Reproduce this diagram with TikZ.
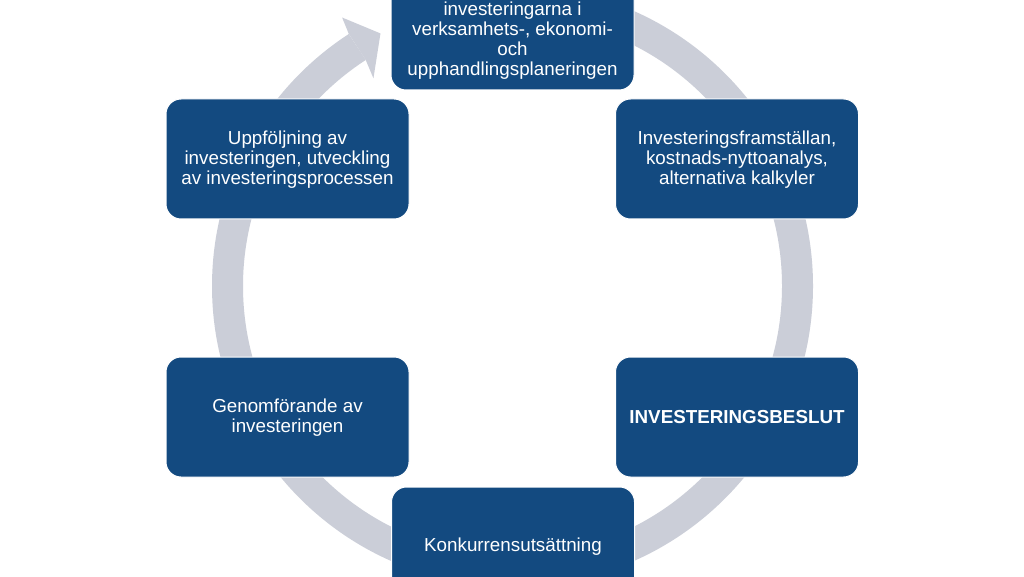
\documentclass[tikz,border=0pt]{standalone}
\usepackage{fontspec}
\setmainfont{Liberation Sans}
\usetikzlibrary{calc}
\definecolor{boxblue}{RGB}{19,74,128}
\definecolor{ringgray}{RGB}{203,206,216}
\begin{document}
\begin{tikzpicture}[x=1pt,y=-1pt,
  stagebox/.style={rectangle, rounded corners=15pt, fill=boxblue, draw=white,
    line width=1pt, minimum width=243pt, minimum height=120pt, inner sep=0pt},
  stagetext/.style={text=white, align=center, inner sep=0pt,
    font=\fontsize{18.8}{20}\selectfont}]
\useasboundingbox (0,0) rectangle (1024,577);
\clip (0,0) rectangle (1024,577);
\fill[white] (0,0) rectangle (1024,577);
\coordinate (c) at (512.5,286);
% ring
\draw[ringgray, line width=31pt] ($(c)+(-90:285)$) arc[start angle=-90, end angle=237, radius=285];
\fill[ringgray] ($(c)+(237:300.5)$) -- ($(c)+(237.6:318)$) -- ($(c)+(242.4:285)$)
  -- ($(c)+(236.2:250)$) -- ($(c)+(237:269.5)$) -- cycle;
% boxes
\node[stagebox] (top) at (512.5,30) {};
\node[stagetext] (toptext) at (512.5,41) {investeringarna i\\verksamhets-, ekonomi-\\och\\upphandlingsplaneringen};
\node[stagebox] (ur) at (737,159) {};
\node[stagetext] (urtext) at (737,160) {Investeringsframställan,\\kostnads-nyttoanalys,\\alternativa kalkyler};
\node[stagebox] (lr) at (737,417) {};
\node[stagetext] (lrtext) at (737,417) {\textbf{INVESTERINGSBESLUT}};
\node[stagebox] (bot) at (513,547) {};
\node[stagetext] (bottext) at (513,547) {Konkurrensutsättning};
\node[stagebox] (ll) at (287.5,417) {};
\node[stagetext] (lltext) at (287.5,418) {Genomförande av\\investeringen};
\node[stagebox] (ul) at (287.5,159) {};
\node[stagetext] (ultext) at (287.5,160) {Uppföljning av\\investeringen, utveckling\\av investeringsprocessen};
\end{tikzpicture}
\end{document}
